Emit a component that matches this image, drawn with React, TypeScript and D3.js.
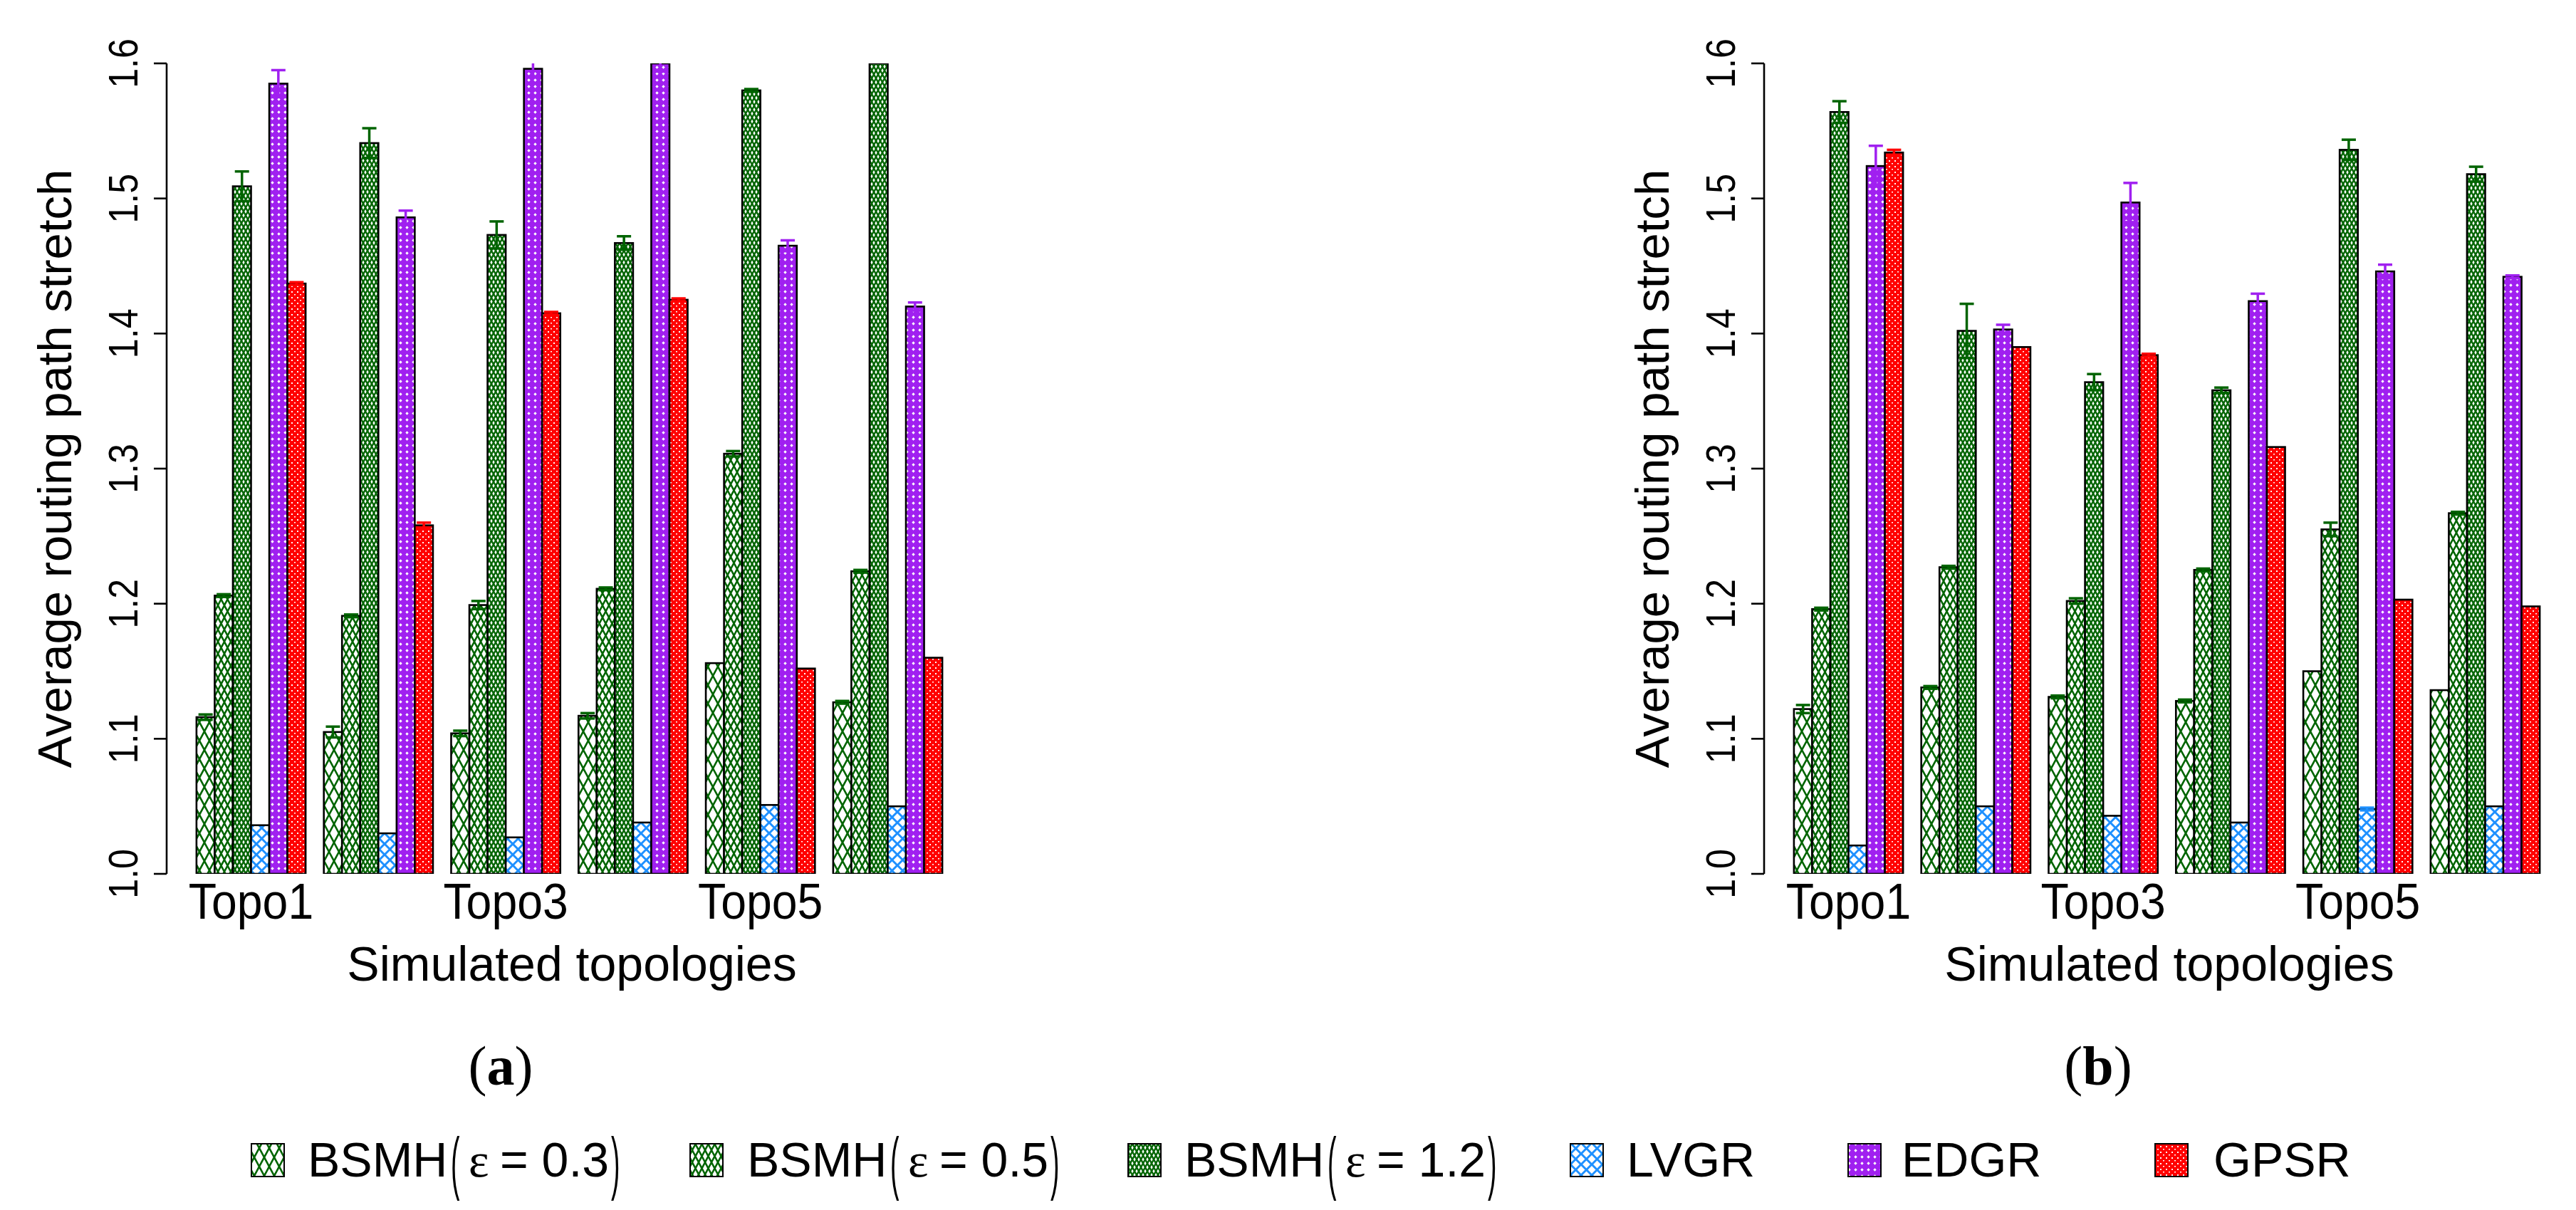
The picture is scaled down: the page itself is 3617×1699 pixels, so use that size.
import * as d3 from 'd3'

const topologies = ['Topo1', 'Topo2', 'Topo3', 'Topo4', 'Topo5', 'Topo6']
const shownTopoLabels = ['Topo1', 'Topo3', 'Topo5']
const seriesNames = ['BSMH(ε = 0.3)', 'BSMH(ε = 0.5)', 'BSMH(ε = 1.2)', 'LVGR', 'EDGR', 'GPSR']
const yTicks = [1.0, 1.1, 1.2, 1.3, 1.4, 1.5, 1.6]

// panel (a)
const bsmh03A = [1.116, 1.105, 1.104, 1.117, 1.156, 1.127]
const bsmh05A = [1.206, 1.191, 1.199, 1.211, 1.311, 1.224]
const bsmh12A = [1.509, 1.541, 1.473, 1.467, 1.58, 1.62]
const lvgrA = [1.036, 1.03, 1.027, 1.038, 1.051, 1.05]
const edgrA = [1.585, 1.486, 1.596, 1.606, 1.465, 1.42]
const gpsrA = [1.437, 1.258, 1.415, 1.425, 1.152, 1.16]

const bsmh03ErrA = [0.002, 0.004, 0.002, 0.002, 0, 0.001]
const bsmh05ErrA = [0.001, 0.001, 0.003, 0.001, 0.002, 0.001]
const bsmh12ErrA = [0.011, 0.011, 0.01, 0.005, 0.001, 0]
const lvgrErrA = [0, 0, 0, 0, 0, 0]
const edgrErrA = [0.01, 0.005, 0.006, 0.012, 0.004, 0.003]
const gpsrErrA = [0.001, 0.002, 0.001, 0.001, 0, 0]

// panel (b)
const bsmh03B = [1.122, 1.138, 1.131, 1.128, 1.15, 1.136]
const bsmh05B = [1.196, 1.227, 1.202, 1.225, 1.255, 1.267]
const bsmh12B = [1.564, 1.402, 1.364, 1.358, 1.536, 1.518]
const lvgrB = [1.021, 1.05, 1.043, 1.038, 1.048, 1.05]
const edgrB = [1.524, 1.403, 1.497, 1.424, 1.446, 1.442]
const gpsrB = [1.534, 1.39, 1.384, 1.316, 1.203, 1.198]

const bsmh03ErrB = [0.003, 0.001, 0.001, 0.001, 0, 0]
const bsmh05ErrB = [0.001, 0.001, 0.002, 0.001, 0.005, 0.001]
const bsmh12ErrB = [0.008, 0.02, 0.006, 0.002, 0.0075, 0.0055]
const lvgrErrB = [0, 0, 0, 0, 0.001, 0]
const edgrErrB = [0.015, 0.0035, 0.0145, 0.0055, 0.005, 0.001]
const gpsrErrB = [0.002, 0, 0.001, 0, 0, 0]

const GREEN = '#006400'
const BLUE = '#1E90FF'
const PURPLE = '#A020F0'
const RED = '#FF0000'
const seriesFill = ['url(#p-bsmh03)', 'url(#p-bsmh05)', 'url(#p-bsmh12)', 'url(#p-lvgr)', 'url(#p-edgr)', 'url(#p-gpsr)']
const seriesLine = [GREEN, GREEN, GREEN, BLUE, PURPLE, RED]

const SANS = 'Liberation Sans, Arial, Helvetica, sans-serif'
const SERIF = 'Liberation Serif, Times New Roman, serif'

const W = 3617
const H = 1699

const Patterns = () => (
    <defs>
        <pattern id="p-bsmh03" patternUnits="userSpaceOnUse" width={14} height={26}>
            <rect width={14} height={26} fill="white" />
            <path d="M0,26 L14,0 M0,0 L14,26" stroke={GREEN} strokeWidth={2.6} />
        </pattern>
        <pattern id="p-bsmh05" patternUnits="userSpaceOnUse" width={9} height={17}>
            <rect width={9} height={17} fill="white" />
            <path d="M0,17 L9,0 M0,0 L9,17" stroke={GREEN} strokeWidth={2.5} />
        </pattern>
        <pattern id="p-bsmh12" patternUnits="userSpaceOnUse" width={6} height={11}>
            <rect width={6} height={11} fill="white" />
            <path d="M0,11 L6,0 M0,0 L6,11" stroke={GREEN} strokeWidth={2.4} />
        </pattern>
        <pattern id="p-lvgr" patternUnits="userSpaceOnUse" width={15} height={15}>
            <rect width={15} height={15} fill="white" />
            <path d="M0,15 L15,0 M0,0 L15,15" stroke={BLUE} strokeWidth={3} />
        </pattern>
        <pattern id="p-edgr" patternUnits="userSpaceOnUse" width={9} height={9}>
            <rect width={9} height={9} fill={PURPLE} />
            <path d="M4.5,2.3 L6.7,4.5 L4.5,6.7 L2.3,4.5 Z" fill="white" />
        </pattern>
        <pattern id="p-gpsr" patternUnits="userSpaceOnUse" width={8} height={8}>
            <rect width={8} height={8} fill={RED} />
            <rect x={1} y={1} width={2} height={2} fill="white" />
            <rect x={5} y={5} width={2} height={1.5} fill="white" />
        </pattern>
    </defs>
)

interface PanelProps {
    id: string
    offsetX: number
    caption: string
    means: number[][]
    errors: number[][]
}

const Panel = (props: PanelProps) => {
    const x = d3.scaleLinear().domain([-0.64, 43.64]).range([234, 1365])
    const y = d3.scaleLinear().domain([1.0, 1.6]).range([1227, 89])
    const bw = x(1) - x(0)

    const bars = topologies.map((topo, g) =>
        seriesNames.map((name, j) => {
            const left = 1 + g * 7 + j
            const v = props.means[j][g]
            return (
                <rect
                    key={`${topo}-${name}`}
                    x={x(left)}
                    y={y(Math.min(v, 1.6))}
                    width={bw}
                    height={y(1.0) - y(Math.min(v, 1.6))}
                    fill={seriesFill[j]}
                    stroke="black"
                    strokeWidth={2.6}
                />
            )
        })
    )

    const errorBars = topologies.map((topo, g) =>
        seriesNames.map((name, j) => {
            const e = props.errors[j][g]
            if (!e) return null
            const v = props.means[j][g]
            const cx = x(1 + g * 7 + j + 0.5)
            const y1 = y(v + e)
            const y0 = y(v - e)
            return (
                <g key={`e-${topo}-${name}`} stroke={seriesLine[j]} strokeWidth={3.5}>
                    <line x1={cx} x2={cx} y1={y0} y2={y1} />
                    <line x1={cx - 10} x2={cx + 10} y1={y1} y2={y1} />
                    <line x1={cx - 10} x2={cx + 10} y1={y0} y2={y0} />
                </g>
            )
        })
    )

    const yAxis = (
        <g>
            <path d={`M 234 ${y(1.0)} V ${y(1.6)}`} stroke="black" strokeWidth={2.6} fill="none" />
            {yTicks.map(t => (
                <g key={t}>
                    <line x1={216} x2={234} y1={y(t)} y2={y(t)} stroke="black" strokeWidth={2.6} />
                    <text
                        transform={`translate(193,${y(t)}) rotate(-90) scale(0.88,1)`}
                        textAnchor="middle"
                        fontFamily={SANS}
                        fontSize={57}
                    >
                        {t.toFixed(1)}
                    </text>
                </g>
            ))}
        </g>
    )

    const xLabels = topologies.map((topo, g) => {
        if (!shownTopoLabels.includes(topo)) return null
        return (
            <text
                key={topo}
                transform={`translate(${x(1 + g * 7 + 3)},1290) scale(0.92,1)`}
                textAnchor="middle"
                fontFamily={SANS}
                fontSize={70}
            >
                {topo}
            </text>
        )
    })

    return (
        <g transform={`translate(${props.offsetX},0)`}>
            <clipPath id={`clip-${props.id}`}>
                <rect x={234} y={y(1.6)} width={1365 - 234} height={y(1.0) - y(1.6)} />
            </clipPath>
            <g clipPath={`url(#clip-${props.id})`}>
                {bars}
                {errorBars}
            </g>
            {yAxis}
            {xLabels}
            <text
                transform={`translate(100,${(y(1.0) + y(1.6)) / 2}) rotate(-90)`}
                textAnchor="middle"
                fontFamily={SANS}
                fontSize={67}
            >
                Average routing path stretch
            </text>
            <text x={803} y={1377} textAnchor="middle" fontFamily={SANS} fontSize={68}>
                Simulated topologies
            </text>
            <text x={703} y={1523} textAnchor="middle" fontFamily={SERIF} fontSize={78}>
                (<tspan fontWeight="bold">{props.caption}</tspan>)
            </text>
        </g>
    )
}

// legend layout: key box left edges and label starts
const legendBoxX = [353, 969, 1584, 2205, 2595, 3026]
const legendTextX = [432, 1049, 1663, 2284, 2670, 3108]
const LEG_BASE = 1652
const LEG_FS = 68

const BigParen = ({ x, ch }: { x: number, ch: string }) => (
    <text
        transform={`translate(${x},${LEG_BASE + 14}) scale(0.55,1.45)`}
        fontFamily={SANS}
        fontSize={LEG_FS}
    >
        {ch}
    </text>
)

const Legend = () => (
    <g>
        {seriesNames.map((name, j) => {
            const tx = legendTextX[j]
            const bx = legendBoxX[j]
            const m = name.match(/^(\w+)\((ε) = ([\d.]+)\)$/)
            return (
                <g key={name}>
                    <rect x={bx} y={1606} width={46} height={46} fill={seriesFill[j]} stroke="black" strokeWidth={2} />
                    {m ? (
                        <g>
                            <text x={tx} y={LEG_BASE} fontFamily={SANS} fontSize={LEG_FS}>{m[1]}</text>
                            <BigParen x={tx + 201} ch="(" />
                            <text x={tx + 226} y={LEG_BASE} fontFamily={SERIF} fontSize={LEG_FS}>{m[2]}</text>
                            <text x={tx + 270} y={LEG_BASE} fontFamily={SANS} fontSize={LEG_FS}>{`= ${m[3]}`}</text>
                            <BigParen x={tx + 426} ch=")" />
                        </g>
                    ) : (
                        <text x={tx} y={LEG_BASE} fontFamily={SANS} fontSize={LEG_FS}>{name}</text>
                    )}
                </g>
            )
        })}
    </g>
)

const App = () => (
    <svg
        width={W}
        height={H}
        style={{ position: 'absolute', left: 0, top: 0, background: 'white' }}
    >
        <Patterns />
        <rect width={W} height={H} fill="white" />
        <Panel
            id="a"
            offsetX={0}
            caption="a"
            means={[bsmh03A, bsmh05A, bsmh12A, lvgrA, edgrA, gpsrA]}
            errors={[bsmh03ErrA, bsmh05ErrA, bsmh12ErrA, lvgrErrA, edgrErrA, gpsrErrA]}
        />
        <Panel
            id="b"
            offsetX={2243}
            caption="b"
            means={[bsmh03B, bsmh05B, bsmh12B, lvgrB, edgrB, gpsrB]}
            errors={[bsmh03ErrB, bsmh05ErrB, bsmh12ErrB, lvgrErrB, edgrErrB, gpsrErrB]}
        />
        <Legend />
    </svg>
)

export default App
